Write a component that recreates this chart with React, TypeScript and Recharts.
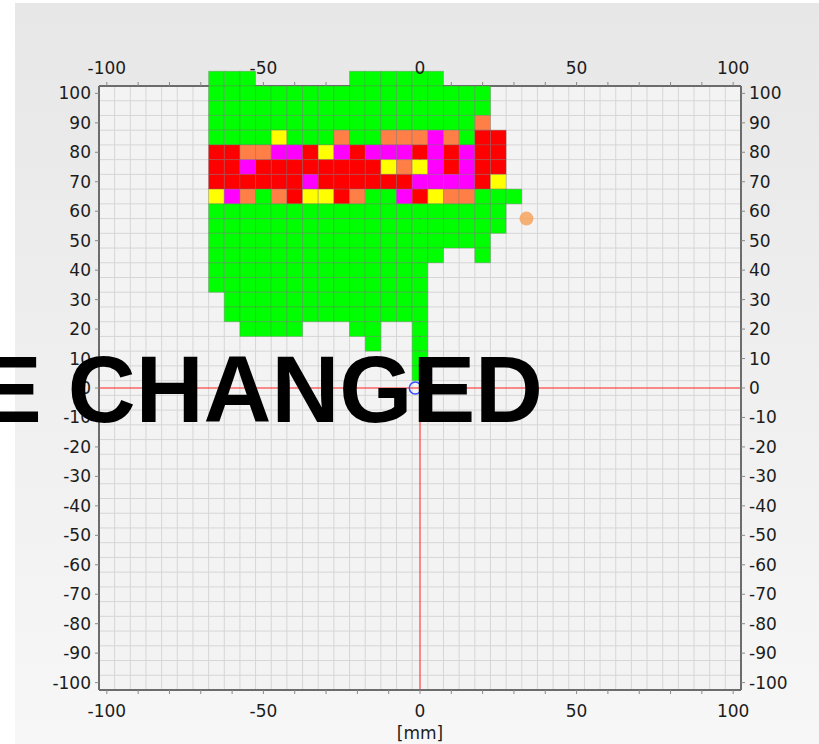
import React from 'react';
import {
  ScatterChart,
  Scatter,
  XAxis,
  YAxis,
  CartesianGrid,
  ReferenceLine,
  ReferenceDot,
} from 'recharts';

// cell centres in mm (5 mm raster)
const cellColumns = [-65, -60, -55, -50, -45, -40, -35, -30, -25, -20, -15, -10, -5, 0, 5, 10, 15, 20, 25, 30];
const cellRows = [105, 100, 95, 90, 85, 80, 75, 70, 65, 60, 55, 50, 45, 40, 35, 30, 25, 20, 15, 10, 5];

// one letter per column: G green, R red, M magenta, Y yellow, O orange, . empty
const cellMap = [
  'GGG......GGGGGG.....',
  'GGGGGGGGGGGGGGGGGG..',
  'GGGGGGGGGGGGGGGGGG..',
  'GGGGGGGGGGGGGGGGGO..',
  'GGGGYGGGOGGOOOMOGRR.',
  'RROOMMRYMRMMMRMRMRR.',
  'RRMRRRRRRRRYOYMRMRR.',
  'RRRRRRMRRRRRRMMMMRY.',
  'YMOGORYYROGGMRYOOGGG',
  'GGGGGGGGGGGGGGGGGGG.',
  'GGGGGGGGGGGGGGGGGGG.',
  'GGGGGGGGGGGGGGGGGG..',
  'GGGGGGGGGGGGGGG..G..',
  'GGGGGGGGGGGGGG......',
  'GGGGGGGGGGGGGG......',
  '.GGGGGGGGGGGGG......',
  '.GGGGGGGGGGGGG......',
  '..GGGG...GG..G......',
  '..........G..G......',
  '.............G......',
  '.............G......',
];

const palette: Record<string, string> = {
  G: '#00ff00',
  R: '#ff0000',
  M: '#ff00ff',
  Y: '#ffff00',
  O: '#ff7f47',
};

const axisTicks = [-100, -90, -80, -70, -60, -50, -40, -30, -20, -10, 0, 10, 20, 30, 40, 50, 60, 70, 80, 90, 100];
const LIMIT = 102.5;
const CELL = 5;
const gridTicks = Array.from({ length: 40 }, (_, i) => -97.5 + i * CELL);

// chart layout
const W = 819;
const H = 744;
const LEFT_W = 99;
const RIGHT_W = 78;
const TOP_H = 86;
const BOTTOM_H = 54;
const CELL_W = (CELL * (W - LEFT_W - RIGHT_W)) / (2 * LIMIT);
const CELL_H = (CELL * (H - TOP_H - BOTTOM_H)) / (2 * LIMIT);

// each cell anchored at its lower-left corner
const cells = cellRows.flatMap((row, i) =>
  cellMap[i]
    .split('')
    .map((k, j) => ({ k, x: cellColumns[j] - CELL / 2, y: row - CELL / 2 }))
    .filter(c => c.k !== '.')
);

const tickStyle = { fill: '#1c1c1c', fontSize: 17, fontFamily: 'DejaVu Sans' };
const frame = { stroke: '#6c6c6c', strokeWidth: 2 };
const xFmt = (v: number) => (v % 50 === 0 ? String(v) : '');

const CellShape = (p: any) => (
  <rect
    x={p.cx}
    y={p.cy - CELL_H}
    width={CELL_W}
    height={CELL_H}
    fill={palette[p.payload.k]}
    stroke="rgba(110,110,110,0.35)"
    strokeWidth={1}
  />
);

export default function App() {
  return (
    <div style={{ position: 'absolute', left: 0, top: 0, width: W, height: H, background: '#fff' }}>
      <div
        style={{
          position: 'absolute',
          left: 15,
          top: 3,
          right: 0,
          bottom: 0,
          background: 'linear-gradient(#e7e7e7, #f7f7f7)',
        }}
      />
      <div style={{ position: 'absolute', left: 0, top: 0 }}>
        <ScatterChart width={W} height={H} margin={{ top: 0, right: 0, bottom: 0, left: 0 }}>
          <XAxis
            xAxisId="top"
            orientation="top"
            type="number"
            dataKey="x"
            height={TOP_H}
            domain={[-LIMIT, LIMIT]}
            ticks={axisTicks}
            interval={0}
            tickFormatter={xFmt}
            allowDataOverflow
            axisLine={frame}
            tickLine={{ stroke: '#888' }}
            tickSize={4}
            tickMargin={8}
            tick={tickStyle}
          />
          <XAxis
            xAxisId="bottom"
            orientation="bottom"
            type="number"
            dataKey="x"
            height={BOTTOM_H}
            domain={[-LIMIT, LIMIT]}
            ticks={axisTicks}
            interval={0}
            tickFormatter={xFmt}
            axisLine={frame}
            tickLine={{ stroke: '#888' }}
            tickSize={4}
            tickMargin={11}
            tick={tickStyle}
            label={{ value: '[mm]', position: 'insideBottom', offset: 5, style: tickStyle }}
          />
          <YAxis
            yAxisId="left"
            orientation="left"
            type="number"
            dataKey="y"
            width={LEFT_W}
            domain={[-LIMIT, LIMIT]}
            ticks={axisTicks}
            interval={0}
            axisLine={frame}
            tickLine={{ stroke: '#888' }}
            tickSize={4}
            tickMargin={4}
            tick={tickStyle}
          />
          <YAxis
            yAxisId="right"
            orientation="right"
            type="number"
            dataKey="y"
            width={RIGHT_W}
            domain={[-LIMIT, LIMIT]}
            ticks={axisTicks}
            interval={0}
            allowDataOverflow
            axisLine={frame}
            tickLine={{ stroke: '#888' }}
            tickSize={4}
            tickMargin={4}
            tick={tickStyle}
          />
          <XAxis
            xAxisId="grid"
            type="number"
            dataKey="x"
            hide
            height={0}
            domain={[-LIMIT, LIMIT]}
            ticks={gridTicks}
            interval={0}
            allowDataOverflow
          />
          <YAxis
            yAxisId="grid"
            orientation="right"
            type="number"
            dataKey="y"
            hide
            width={0}
            domain={[-LIMIT, LIMIT]}
            ticks={gridTicks}
            interval={0}
            allowDataOverflow
          />
          <CartesianGrid xAxisId="grid" yAxisId="grid" fill="#f3f3f3" stroke="#d6d6d6" />
          <Scatter
            data={cells}
            xAxisId="bottom"
            yAxisId="left"
            shape={CellShape}
            isAnimationActive={false}
          />
          <ReferenceLine xAxisId="bottom" yAxisId="left" y={0} stroke="#ff1f1f" strokeWidth={1} />
          <ReferenceLine xAxisId="bottom" yAxisId="left" x={0} stroke="#ff1f1f" strokeWidth={1} />
          <ReferenceLine
            xAxisId="bottom"
            yAxisId="left"
            segment={[{ x: 0, y: 12.5 }, { x: 0, y: LIMIT }]}
            stroke="#2040e0"
            strokeWidth={1.5}
          />
          <ReferenceDot xAxisId="bottom" yAxisId="left" x={-1.5} y={0} r={6} fill="none" stroke="#3050ff" strokeWidth={1.5} />
          <ReferenceDot xAxisId="bottom" yAxisId="left" x={34} y={57.5} r={7} fill="#f7a35c" fillOpacity={0.85} stroke="none" />
        </ScatterChart>
      </div>
      <div
        style={{
          position: 'absolute',
          right: W - 543,
          top: 343,
          fontFamily: '"Liberation Sans", Arial, sans-serif',
          fontWeight: 'bold',
          fontSize: 94,
          lineHeight: '94px',
          color: '#000',
          whiteSpace: 'nowrap',
          textAlign: 'right',
        }}
      >
        E CHANGED
      </div>
    </div>
  );
}
